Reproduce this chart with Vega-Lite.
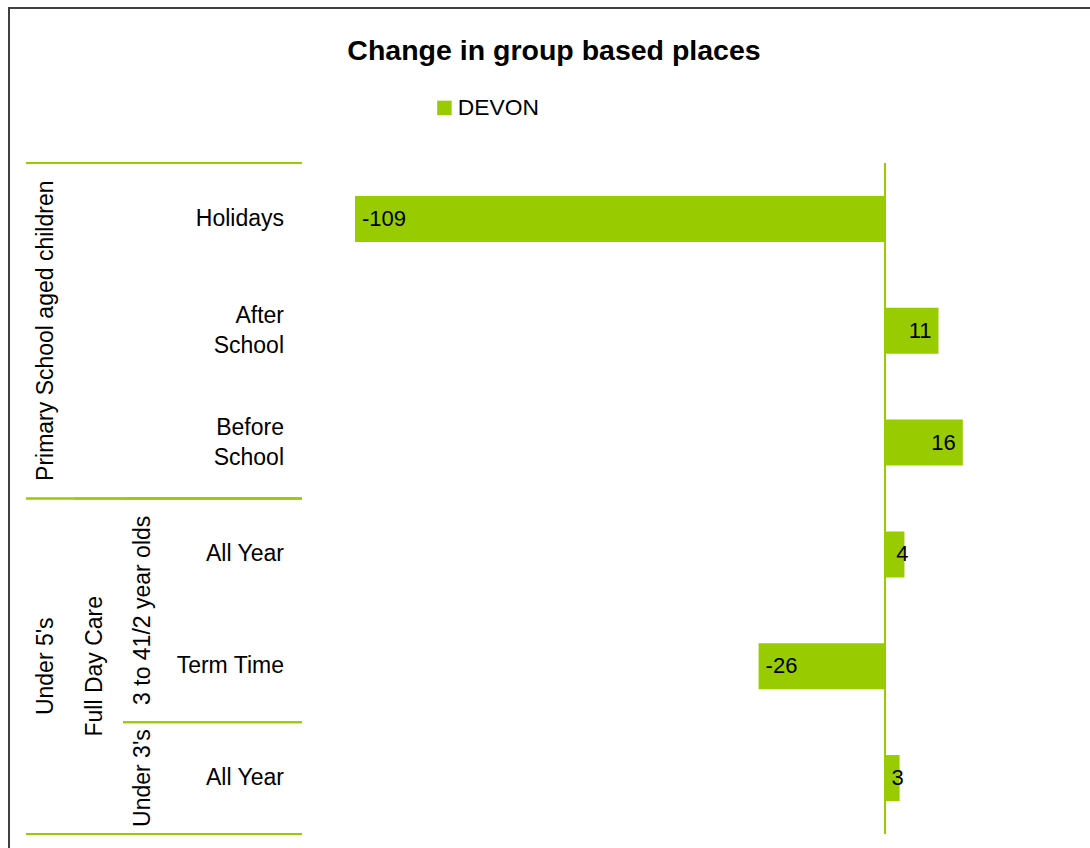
{
  "$schema": "https://vega.github.io/schema/vega-lite/v6.json",
  "width": 1090,
  "height": 850,
  "autosize": {"type": "none"},
  "padding": {"left": 9, "top": 8, "right": 0, "bottom": 0},
  "background": "white",
  "config": {
    "view": {"stroke": "#404040", "strokeWidth": 2},
    "font": "Liberation Sans",
    "text": {"font": "Liberation Sans", "color": "black"},
    "scale": {"continuousPadding": 0}
  },
  "title": {
    "text": "Change in group based places",
    "fontSize": 28.5,
    "fontWeight": "bold",
    "font": "Liberation Sans",
    "color": "black",
    "anchor": "middle",
    "frame": "group",
    "offset": -57
  },
  "datasets": {
    "rows": [
      {"row": 1, "category": "Holidays", "value": -109, "series": "DEVON"},
      {"row": 2, "category": "After\nSchool", "value": 11, "series": "DEVON"},
      {"row": 3, "category": "Before\nSchool", "value": 16, "series": "DEVON"},
      {"row": 4, "category": "All Year", "value": 4, "series": "DEVON"},
      {"row": 5, "category": "Term Time", "value": -26, "series": "DEVON"},
      {"row": 6, "category": "All Year", "value": 3, "series": "DEVON"}
    ],
    "membership": [
      {"group": "Primary School aged children", "level": 1, "row": 1},
      {"group": "Primary School aged children", "level": 1, "row": 2},
      {"group": "Primary School aged children", "level": 1, "row": 3},
      {"group": "Under 5's", "level": 1, "row": 4},
      {"group": "Under 5's", "level": 1, "row": 5},
      {"group": "Under 5's", "level": 1, "row": 6},
      {"group": "Full Day Care", "level": 2, "row": 4},
      {"group": "Full Day Care", "level": 2, "row": 5},
      {"group": "Full Day Care", "level": 2, "row": 6},
      {"group": "3 to 41/2 year olds", "level": 3, "row": 4},
      {"group": "3 to 41/2 year olds", "level": 3, "row": 5},
      {"group": "Under 3's", "level": 3, "row": 6}
    ]
  },
  "layer": [
    {
      "data": {"name": "rows"},
      "layer": [
        {
          "mark": {"type": "rule", "color": "#99cc00", "strokeWidth": 1.2},
          "encoding": {
            "x": {"datum": 0, "type": "quantitative", "scale": {"domain": [-180.156, 44.011], "nice": false, "zero": false, "padding": 0}, "axis": null},
            "y": {"datum": 0.5, "type": "quantitative", "scale": {"domain": [-0.88603, 6.71479], "nice": false, "zero": false, "reverse": true, "padding": 0}, "axis": null},
            "y2": {"datum": 6.5}
          }
        },
        {
          "mark": {"type": "bar", "orient": "horizontal", "size": 46},
          "encoding": {
            "x": {"field": "value", "type": "quantitative", "scale": {"domain": [-180.156, 44.011], "nice": false, "zero": false, "padding": 0}, "axis": null},
            "x2": {"datum": 0},
            "y": {"field": "row", "type": "quantitative", "scale": {"domain": [-0.88603, 6.71479], "nice": false, "zero": false, "reverse": true, "padding": 0}, "axis": null},
            "color": {
              "field": "series",
              "type": "nominal",
              "scale": {"domain": ["DEVON"], "range": ["#99cc00"]},
              "legend": {
                "orient": "none",
                "legendX": 424,
                "legendY": 88.5,
                "title": null,
                "padding": 0,
                "labelFontSize": 22.8,
                "labelFont": "Liberation Sans",
                "labelColor": "black",
                "symbolType": "square",
                "symbolSize": 210,
                "symbolStrokeWidth": 0,
                "labelOffset": 2
              }
            }
          }
        },
        {
          "mark": {
            "type": "text",
            "fontSize": 22,
            "baseline": "middle",
            "align": {"expr": "datum.value < 0 ? 'left' : (datum.value < 6 ? 'center' : 'right')"},
            "dx": {"expr": "datum.value < 0 ? 7 : (datum.value < 6 ? -2 : -7)"}
          },
          "encoding": {
            "x": {"field": "value", "type": "quantitative", "scale": {"domain": [-180.156, 44.011], "nice": false, "zero": false, "padding": 0}, "axis": null},
            "y": {"field": "row", "type": "quantitative", "scale": {"domain": [-0.88603, 6.71479], "nice": false, "zero": false, "reverse": true, "padding": 0}, "axis": null},
            "text": {"field": "value", "type": "nominal"}
          }
        }
      ]
    },
    {
      "layer": [
        {
          "data": {"name": "membership"},
          "transform": [{"aggregate": [{"op": "min", "field": "row", "as": "first"}], "groupby": ["group", "level"]}],
          "mark": {"type": "rule", "color": "#99cc00", "strokeWidth": 2, "xOffset": -20, "yOffset": -55.9},
          "encoding": {
            "x": {"field": "level", "type": "quantitative", "scale": {"domain": [0.23711, 22.7113], "nice": false, "zero": false, "padding": 0}, "axis": null},
            "x2": {"datum": 6.278},
            "y": {"field": "first", "type": "quantitative", "scale": {"domain": [-0.88603, 6.71479], "nice": false, "zero": false, "reverse": true, "padding": 0}, "axis": null}
          }
        },
        {
          "data": {"name": "membership"},
          "transform": [{"aggregate": [{"op": "max", "field": "row", "as": "last"}], "groupby": ["group", "level"]}],
          "mark": {"type": "rule", "color": "#99cc00", "strokeWidth": 2, "xOffset": -20, "yOffset": 55.9},
          "encoding": {
            "x": {"field": "level", "type": "quantitative", "scale": {"domain": [0.23711, 22.7113], "nice": false, "zero": false, "padding": 0}, "axis": null},
            "x2": {"datum": 6.278},
            "y": {"field": "last", "type": "quantitative", "scale": {"domain": [-0.88603, 6.71479], "nice": false, "zero": false, "reverse": true, "padding": 0}, "axis": null}
          }
        },
        {
          "data": {"name": "membership"},
          "transform": [{"aggregate": [{"op": "mean", "field": "row", "as": "mid"}], "groupby": ["group", "level"]}],
          "mark": {"type": "text", "angle": 270, "fontSize": 23, "align": "center", "baseline": "middle"},
          "encoding": {
            "x": {"field": "level", "type": "quantitative", "scale": {"domain": [0.23711, 22.7113], "nice": false, "zero": false, "padding": 0}, "axis": null},
            "y": {"field": "mid", "type": "quantitative", "scale": {"domain": [-0.88603, 6.71479], "nice": false, "zero": false, "reverse": true, "padding": 0}, "axis": null},
            "text": {"field": "group", "type": "nominal"}
          }
        },
        {
          "data": {"name": "rows"},
          "mark": {
            "type": "text",
            "fontSize": 23,
            "align": "right",
            "baseline": "middle",
            "lineBreak": "\n",
            "lineHeight": 30,
            "dx": 92.5,
            "dy": {"expr": "-(length(split(datum.category, '\\n')) - 1) * 15"}
          },
          "encoding": {
            "x": {"datum": 4, "type": "quantitative", "scale": {"domain": [0.23711, 22.7113], "nice": false, "zero": false, "padding": 0}, "axis": null},
            "y": {"field": "row", "type": "quantitative", "scale": {"domain": [-0.88603, 6.71479], "nice": false, "zero": false, "reverse": true, "padding": 0}, "axis": null},
            "text": {"field": "category", "type": "nominal"}
          }
        }
      ]
    }
  ],
  "resolve": {"scale": {"x": "independent"}}
}
